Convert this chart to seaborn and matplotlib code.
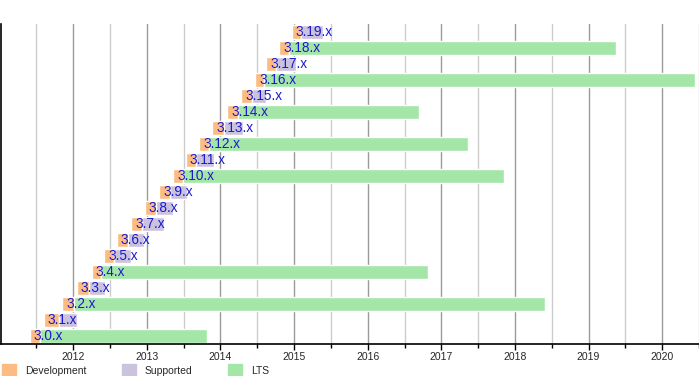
import matplotlib
matplotlib.use("Agg")
import matplotlib.pyplot as plt
import seaborn as sns
from matplotlib.patches import Patch
from matplotlib.ticker import MultipleLocator

# Linux 3.x kernel releases (decimal years)
versions = ['3.0', '3.1', '3.2', '3.3', '3.4', '3.5', '3.6', '3.7', '3.8', '3.9',
            '3.10', '3.11', '3.12', '3.13', '3.14', '3.15', '3.16', '3.17', '3.18', '3.19']
dev_start = [2011.41, 2011.60, 2011.85, 2012.05, 2012.25, 2012.42, 2012.59, 2012.79, 2012.97, 2013.17,
             2013.36, 2013.53, 2013.71, 2013.89, 2014.09, 2014.28, 2014.47, 2014.62, 2014.80, 2014.97]
release = [2011.55, 2011.81, 2012.01, 2012.21, 2012.38, 2012.55, 2012.75, 2012.94, 2013.13, 2013.32,
           2013.49, 2013.67, 2013.84, 2014.05, 2014.24, 2014.43, 2014.59, 2014.76, 2014.93, 2015.10]
end_of_life = [2013.82, 2012.05, 2018.41, 2012.43, 2016.82, 2012.79, 2012.96, 2013.24, 2013.36, 2013.55,
               2017.85, 2013.91, 2017.36, 2014.31, 2016.70, 2014.62, 2020.44, 2015.02, 2019.37, 2015.39]
is_lts = [True, False, True, False, True, False, False, False, False, False,
          True, False, True, False, True, False, True, False, True, False]

c_dev = '#fbbb82'
c_sup = '#cbc3de'
c_lts = '#a4e6a8'

sns.set_style("white")
plt.rcParams['font.family'] = ['Liberation Sans', 'DejaVu Sans']

fig = plt.figure(figsize=(6.99, 3.76), dpi=100)
ax = fig.add_axes([0.0015, 1 - 344 / 376, 0.9985, 320 / 376])

ypos = list(range(len(versions)))
h = 0.9
sup_width = [e - r for r, e in zip(release, end_of_life)]
ax.barh(ypos, [r - d for d, r in zip(dev_start, release)], left=dev_start, height=h, color=c_dev, zorder=2)
ax.barh(ypos, sup_width, left=release, height=h,
        color=[c_lts if l else c_sup for l in is_lts], zorder=2)

for y, v, d in zip(ypos, versions, dev_start):
    ax.text(d + 0.055, y, v + '.x', color='#1a1acc', fontsize=9.8, va='center', ha='left', zorder=3)

ax.set_xlim(2011.02, 2020.5)
ax.set_ylim(-0.5, 19.5)
ax.xaxis.set_major_locator(MultipleLocator(1))
ax.xaxis.set_minor_locator(MultipleLocator(0.5))
ax.xaxis.set_major_formatter(matplotlib.ticker.FuncFormatter(lambda x, p: f'{int(x)}'))
ax.grid(which='major', axis='x', color='#9a9a9a', lw=1, zorder=0)
ax.grid(which='minor', axis='x', color='#cccccc', lw=1, zorder=0)
ax.set_axisbelow(True)
ax.set_yticks([])
ax.tick_params(axis='x', which='major', length=4, width=1, color='black', labelsize=7.5, pad=2, bottom=True)
ax.tick_params(axis='x', which='minor', length=3, width=1, color='black', bottom=True)
for s in ['top', 'right']:
    ax.spines[s].set_visible(False)
for s in ['left', 'bottom']:
    ax.spines[s].set_color('black')
    ax.spines[s].set_linewidth(1.2)

handles = [Patch(color=c_dev, label='Development'),
           Patch(color=c_sup, label='Supported'),
           Patch(color=c_lts, label='LTS')]
fig.legend(handles=handles, loc='upper left', bbox_to_anchor=(2 / 699, 1 - 364 / 376), ncol=3,
           frameon=False, fontsize=7.5, handlelength=1.35, handleheight=1.5,
           handletextpad=0.85, columnspacing=3.4, borderpad=0, borderaxespad=0)

fig.savefig('out.png', dpi=100)
